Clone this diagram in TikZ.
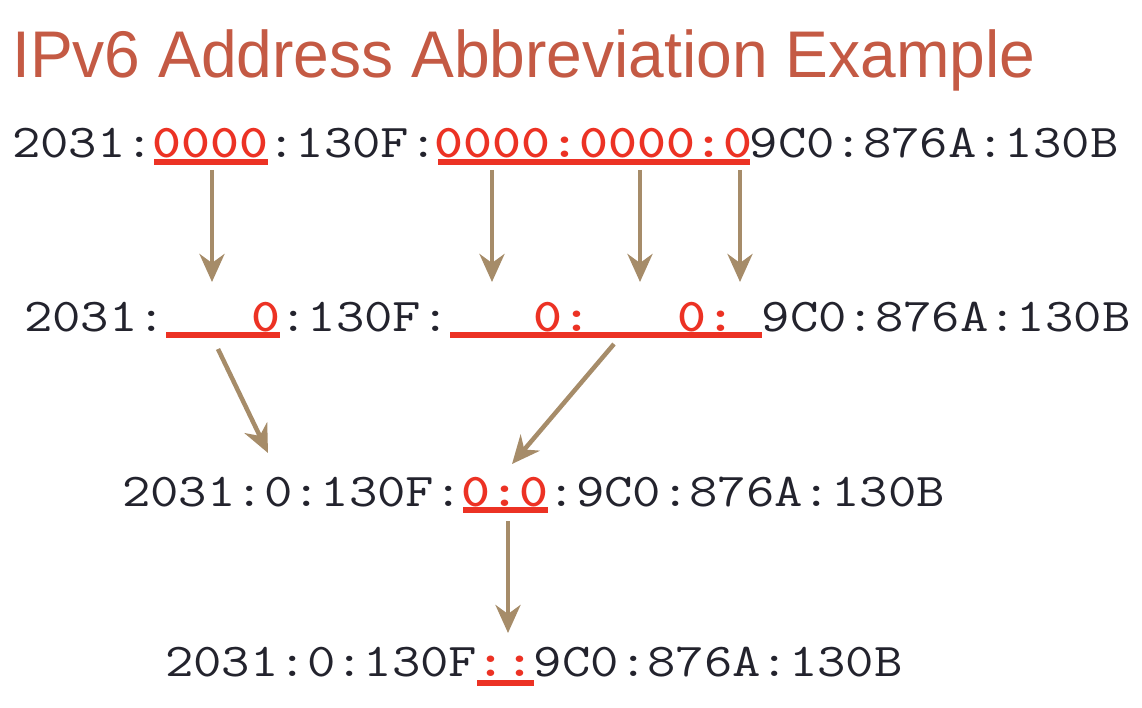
\documentclass[tikz,border=0pt]{standalone}
\usepackage{fontspec}
\setmainfont{Liberation Sans}
\newfontfamily\zbold{lmmonolt10-bold.otf}
\usetikzlibrary{arrows.meta}
\definecolor{titlered}{RGB}{196,90,68}
\definecolor{zred}{RGB}{236,50,36}
\definecolor{arrowtan}{RGB}{166,140,105}
\definecolor{addr}{RGB}{35,35,45}
% 赤い太字＋下線（幅は通常の文字幅に合わせる）
\newcommand\zr[2][7pt]{\setbox2\hbox{#2}\setbox0\hbox{\zbold #2}%
  \rlap{\color{zred}\rule[-#1]{\wd2}{6pt}}\textcolor{zred}{\makebox[\wd2]{\box0}}}
\newcommand\blank[1]{\phantom{#1}}
\newcommand\addrtext[1]{\scalebox{1.172}[1]{#1}}

\begin{document}
\begin{tikzpicture}[x=1pt,y=-1pt,
    row/.style={anchor=base west,inner sep=0pt,text=addr,
      font=\ttfamily\fontsize{47}{50}\selectfont},
    arr/.style={-{Stealth[length=28pt,width=25pt,inset=9pt]},
      line width=4.5pt,arrowtan}]
  \useasboundingbox (0,0) rectangle (1142,708);
  \node[anchor=base west,inner sep=0pt,text=titlered,
    font=\fontsize{66}{70}\selectfont] (title) at (12,78)
    {\scalebox{0.972}[1]{IPv6 Address Abbreviation Example}}; %タイトル

  \node[row] (row1) at (12,158)
    {\addrtext{2031:\zr{0000}:130F:\zr{0000:0000:0}9C0:876A:130B}}; %1行目
  \node[row] (row2) at (24,331)
    {\addrtext{2031:\zr{\blank{000}0}:130F:\zr{\blank{000}0:\blank{000}0:\blank{0}}9C0:876A:130B}}; %2行目
  \node[row] (row3) at (122,506)
    {\addrtext{2031:0:130F:\zr{0:0}:9C0:876A:130B}}; %3行目
  \node[row] (row4) at (165,676)
    {\addrtext{2031:0:130F\zr[10pt]{::}9C0:876A:130B}}; %4行目

  % 矢印
  \foreach \x/\n in {212/a,492/b,640/c,740/d}{
    \coordinate (s\n) at (\x,170);
    \coordinate (e\n) at (\x,282);
    \draw[arr] (s\n) -- (e\n);
  }
  \coordinate (se) at (218,349);
  \coordinate (ee) at (268,453);
  \coordinate (sf) at (614,344);
  \coordinate (ef) at (512,464);
  \coordinate (sg) at (508,521);
  \coordinate (eg) at (508,633);
  \draw[arr] (se) -- (ee);
  \draw[arr] (sf) -- (ef);
  \draw[arr] (sg) -- (eg);
\end{tikzpicture}
\end{document}
